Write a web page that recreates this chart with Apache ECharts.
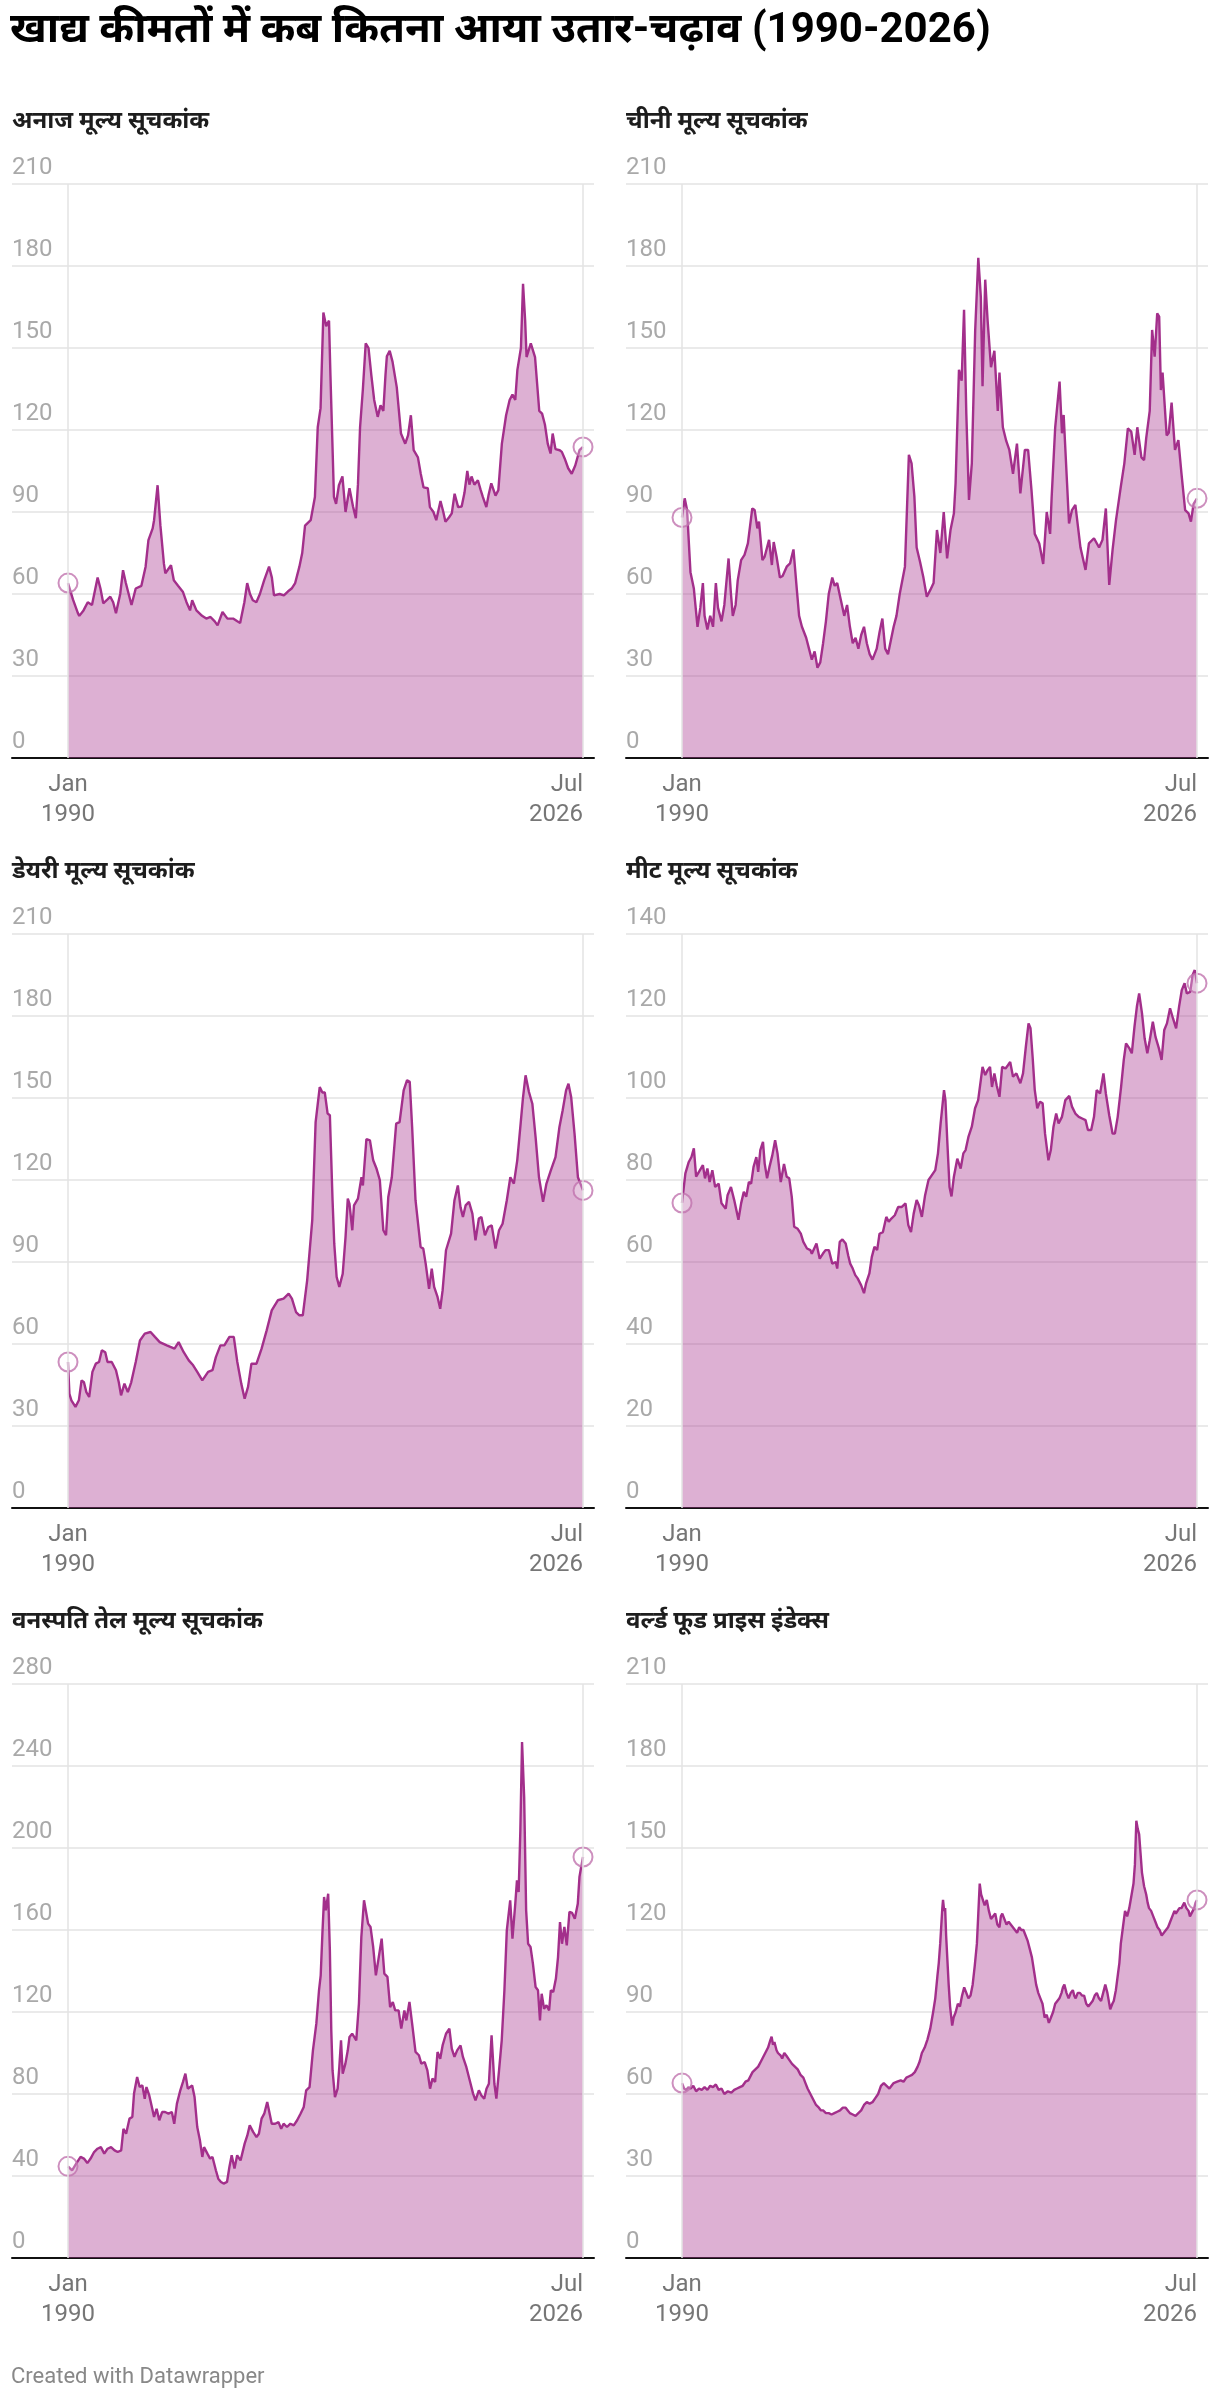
<!DOCTYPE html>
<html>
<head>
<meta charset="utf-8">
<script src="https://cdn.jsdelivr.net/npm/echarts@6/dist/echarts.min.js"></script>
<style>
  html, body { margin: 0; padding: 0; background: #fff; }
  #chart { width: 1220px; height: 2404px; }
</style>
</head>
<body>
<div id="chart"></div>
<script>
// ---- data, [year, index value] ----
const mainTitle = "खाद्य कीमतों में कब कितना आया उतार-चढ़ाव (1990-2026)";
const credit = "Created with Datawrapper";
const panelTitles = ["अनाज मूल्य सूचकांक", "चीनी मूल्य सूचकांक", "डेयरी मूल्य सूचकांक",
  "मीट मूल्य सूचकांक", "वनस्पति तेल मूल्य सूचकांक", "वर्ल्ड फूड प्राइस इंडेक्स"];
const axisMax = [210, 210, 210, 140, 280, 210];
const axisStep = [30, 30, 30, 20, 40, 30];
const firstMonth = 1990;
const lastMonth = 2026.5;
const xTickLabels = ["Jan\n1990", "Jul\n2026"];

const cerealData = [[1990.0,64],[1990.35,58],[1990.7,53],[1990.8,52],[1991.1,54],[1991.4,57],[1991.7,56],[1992.1,66],[1992.3,62],[1992.5,56.6],[1992.8,58],[1993.0,59],[1993.2,57],[1993.4,53],[1993.7,60],[1993.9,68.7],[1994.1,64],[1994.3,60],[1994.5,56],[1994.8,62],[1995.2,63],[1995.5,70],[1995.7,79.7],[1996.0,84],[1996.1,87],[1996.35,99.8],[1996.55,85],[1996.8,71],[1996.9,67.6],[1997.3,70.5],[1997.5,65],[1997.8,63],[1998.15,60.7],[1998.4,57],[1998.65,54],[1998.8,57.7],[1999.1,54],[1999.5,52],[1999.8,51],[2000.1,51.6],[2000.4,50],[2000.6,48.5],[2000.95,53.4],[2001.3,51],[2001.7,51],[2002.0,50],[2002.2,49.4],[2002.5,57],[2002.7,64],[2002.9,60],[2003.1,57.7],[2003.35,57],[2003.6,60],[2003.9,65],[2004.25,70],[2004.45,66],[2004.6,59.5],[2005.0,60],[2005.3,59.5],[2005.6,61],[2005.85,62],[2006.1,64],[2006.4,70],[2006.6,75],[2006.8,85],[2007.2,87],[2007.5,95.5],[2007.7,121],[2007.9,128],[2008.1,163],[2008.3,158],[2008.5,160],[2008.6,140],[2008.85,95.5],[2009.0,93],[2009.2,99.8],[2009.45,103],[2009.67,90],[2009.95,98.7],[2010.2,92],[2010.4,87.7],[2010.55,100],[2010.7,121],[2010.9,135],[2011.1,151.7],[2011.3,150],[2011.5,140],[2011.7,131],[2011.95,124.8],[2012.15,129],[2012.35,127],[2012.5,140],[2012.6,147],[2012.8,149],[2013.0,145],[2013.3,135.7],[2013.6,118.7],[2013.9,115],[2014.1,118],[2014.3,125.4],[2014.5,112.6],[2014.8,110],[2015.0,104],[2015.2,99],[2015.5,98.7],[2015.65,91.8],[2015.9,90],[2016.1,87],[2016.4,94],[2016.6,90],[2016.75,86.4],[2017.0,88],[2017.2,89.5],[2017.4,96.7],[2017.65,91.8],[2017.9,92],[2018.1,97],[2018.3,105],[2018.45,100],[2018.6,103],[2018.8,100],[2019.05,101.6],[2019.25,98],[2019.4,95.5],[2019.65,91.8],[2019.8,96],[2020.0,100.5],[2020.3,96],[2020.5,98],[2020.75,115],[2021.05,125.4],[2021.3,131],[2021.5,133],[2021.7,131],[2021.85,142],[2022.1,150],[2022.25,173.5],[2022.4,160],[2022.5,146.7],[2022.8,151.7],[2023.1,146.7],[2023.4,127],[2023.6,126],[2023.8,122],[2024.0,115],[2024.2,111.4],[2024.35,118.7],[2024.55,113],[2024.85,112.6],[2025.0,112],[2025.2,109.6],[2025.45,106],[2025.7,104],[2025.95,107],[2026.25,112.6],[2026.5,113.8]];

const sugarData = [[1990.0,88],[1990.19,95],[1990.36,90.7],[1990.6,68],[1990.84,62],[1990.95,56],[1991.1,48],[1991.3,55],[1991.48,64],[1991.6,52],[1991.8,47],[1992.0,52],[1992.2,48],[1992.4,64],[1992.55,55],[1992.8,50],[1993.0,56],[1993.3,73],[1993.47,60],[1993.6,52],[1993.8,56],[1993.95,65],[1994.19,72.4],[1994.43,74.3],[1994.67,78.5],[1994.98,91.3],[1995.15,90.7],[1995.34,84],[1995.46,86.5],[1995.7,72.4],[1995.86,73.7],[1996.17,79.8],[1996.37,70.6],[1996.5,79],[1996.7,73.7],[1996.94,66],[1997.13,66.6],[1997.42,70],[1997.66,71.2],[1997.9,76.3],[1998.14,61.5],[1998.3,52],[1998.5,48],[1998.8,44],[1999.0,40],[1999.2,36],[1999.4,39],[1999.6,33],[1999.8,35],[2000.0,42],[2000.2,50],[2000.4,60],[2000.65,66],[2000.82,63],[2001.0,64],[2001.25,58],[2001.5,52],[2001.7,56],[2001.9,48],[2002.1,42],[2002.3,44],[2002.5,40],[2002.7,45],[2002.9,48],[2003.1,42],[2003.3,38],[2003.5,36],[2003.8,40],[2004.0,46],[2004.2,51],[2004.4,40],[2004.6,38],[2004.8,43],[2005.0,48],[2005.2,52],[2005.43,60],[2005.8,70],[2006.08,110.9],[2006.27,107.8],[2006.47,95.6],[2006.63,77],[2006.87,71.8],[2007.11,66],[2007.35,59],[2007.6,61.5],[2007.83,64],[2008.07,83.4],[2008.31,75],[2008.55,90],[2008.79,73],[2009.03,83.4],[2009.27,89.5],[2009.39,100.5],[2009.63,142],[2009.82,138],[2009.99,164],[2010.15,126],[2010.34,94.4],[2010.54,107.8],[2010.78,156.6],[2011.0,183],[2011.18,168.6],[2011.3,136],[2011.49,175],[2011.66,160],[2011.9,143],[2012.14,149],[2012.38,127],[2012.5,141],[2012.74,121],[2012.98,116],[2013.2,112.7],[2013.46,104],[2013.74,115],[2013.98,96.8],[2014.3,112.7],[2014.53,112.7],[2014.77,98],[2015.0,82],[2015.32,78.5],[2015.6,71],[2015.85,90],[2016.09,82],[2016.2,95.6],[2016.45,121],[2016.76,137.7],[2016.93,118.8],[2017.05,125.5],[2017.29,100.5],[2017.43,85.8],[2017.64,90.7],[2017.88,92.6],[2018.24,77],[2018.6,68.8],[2018.84,78.5],[2019.2,80.4],[2019.56,77],[2019.8,79.8],[2020.04,91.3],[2020.28,63.3],[2020.52,76.3],[2020.76,87],[2021.1,99.3],[2021.35,107.8],[2021.6,120.6],[2021.84,119.4],[2022.08,110.9],[2022.27,121],[2022.56,110],[2022.75,109],[2022.9,117],[2023.15,127],[2023.32,156.6],[2023.5,146.8],[2023.68,162.7],[2023.82,161.5],[2023.94,134.6],[2024.06,141],[2024.35,118],[2024.5,119],[2024.7,130],[2024.94,112.7],[2025.18,116.3],[2025.4,104],[2025.66,90.7],[2025.9,89.5],[2026.07,86.5],[2026.26,93],[2026.5,95]];

const dairyData = [[1990.0,53.4],[1990.1,41.8],[1990.24,39.4],[1990.53,37],[1990.77,39.4],[1990.96,46.7],[1991.13,46],[1991.3,42.4],[1991.5,40.6],[1991.73,49.8],[1991.97,52.8],[1992.2,53.4],[1992.4,57.7],[1992.64,57],[1992.8,53.4],[1993.1,53.4],[1993.4,50.4],[1993.6,46],[1993.76,41.2],[1994.0,45.5],[1994.24,42.4],[1994.48,46],[1994.8,53.4],[1995.1,61.3],[1995.44,63.8],[1995.85,64.4],[1996.16,62.6],[1996.5,60.7],[1997.0,59.5],[1997.55,58.3],[1997.84,60.7],[1998.2,57],[1998.56,54],[1998.87,52.2],[1999.16,49.8],[1999.52,46.7],[1999.93,49.8],[2000.24,50.4],[2000.48,55.2],[2000.8,59.5],[2001.08,59.5],[2001.44,62.6],[2001.75,62.6],[2002.0,53.4],[2002.28,45.5],[2002.52,40],[2002.76,44.3],[2003.0,52.8],[2003.36,52.8],[2003.72,58.3],[2004.08,65],[2004.44,72.3],[2004.87,76],[2005.28,76.6],[2005.64,78.4],[2005.87,76.6],[2006.16,71.7],[2006.4,70.5],[2006.64,70.5],[2006.95,83.3],[2007.31,105.2],[2007.55,141.2],[2007.84,154],[2008.03,152],[2008.2,152],[2008.4,144.3],[2008.56,143.7],[2008.75,112.6],[2008.87,96.7],[2009.04,84.5],[2009.23,80.9],[2009.47,85.7],[2009.67,99.1],[2009.83,113.2],[2009.95,111.3],[2010.15,101.6],[2010.27,110.7],[2010.55,113.2],[2010.8,121],[2010.9,118],[2011.15,135],[2011.4,134.5],[2011.63,127.2],[2011.87,124.1],[2012.1,120],[2012.35,101.6],[2012.54,99.8],[2012.7,113.8],[2012.95,121],[2013.26,140.6],[2013.5,141.2],[2013.79,152.8],[2014.03,156.5],[2014.22,155.9],[2014.39,139.4],[2014.63,112.6],[2014.99,95.5],[2015.18,94.9],[2015.35,89.4],[2015.59,80.2],[2015.78,87.6],[2015.95,80.9],[2016.19,77.2],[2016.38,72.9],[2016.55,79.6],[2016.79,94.3],[2017.15,100.4],[2017.39,112.6],[2017.63,118],[2017.82,110],[2017.99,106.5],[2018.18,110.7],[2018.42,112],[2018.66,107.7],[2018.88,97.9],[2019.12,105.9],[2019.3,106.5],[2019.55,99.8],[2019.79,102.8],[2020.03,103.4],[2020.3,94.9],[2020.55,101.6],[2020.8,104],[2021.1,112.6],[2021.35,121],[2021.6,118.7],[2021.84,127.2],[2022.08,140.6],[2022.24,149.8],[2022.43,158.3],[2022.67,152.2],[2022.91,147.9],[2023.14,135.7],[2023.38,121],[2023.67,112],[2023.91,118.7],[2024.22,123.5],[2024.55,128.4],[2024.83,139.4],[2025.06,145.5],[2025.3,152.8],[2025.47,155.2],[2025.66,150.4],[2025.9,137],[2026.14,121],[2026.5,116.2]];

const meatData = [[1990.0,74.4],[1990.24,81.6],[1990.48,84.4],[1990.67,85.6],[1990.84,87.7],[1991.0,80.8],[1991.2,82],[1991.48,83.6],[1991.63,80.4],[1991.8,82.8],[1991.96,79.5],[1992.15,82.4],[1992.35,78.3],[1992.6,79.1],[1992.8,74.3],[1993.1,73],[1993.23,76.3],[1993.47,78.3],[1993.7,75.1],[1994.0,70.3],[1994.19,74.3],[1994.38,77.1],[1994.55,75.9],[1994.74,79.5],[1994.9,79.1],[1995.07,83.2],[1995.27,85.6],[1995.4,82],[1995.55,87.3],[1995.74,89.3],[1995.86,84],[1996.03,80.4],[1996.2,83.2],[1996.4,86],[1996.6,89.7],[1996.77,86.5],[1997.0,79.5],[1997.23,83.9],[1997.42,80.8],[1997.6,80.4],[1997.78,75.9],[1997.95,68.6],[1998.2,68.1],[1998.42,66.9],[1998.6,64.9],[1998.86,63.3],[1999.1,62.9],[1999.2,62],[1999.53,64.5],[1999.76,60.8],[1999.98,62],[2000.17,62.9],[2000.41,62.9],[2000.65,59.6],[2000.9,60],[2001.0,58.4],[2001.18,64.9],[2001.37,65.5],[2001.6,64.5],[2001.78,61.6],[2001.92,59.6],[2002.1,58.4],[2002.28,56.8],[2002.45,56],[2002.7,54.3],[2002.9,52.4],[2003.04,54.7],[2003.28,57.2],[2003.45,61.2],[2003.64,63.7],[2003.83,62.9],[2004.0,66.9],[2004.24,67.3],[2004.48,71],[2004.65,69.8],[2004.84,70.6],[2005.08,71.4],[2005.32,73.4],[2005.56,73.4],[2005.84,74.3],[2006.04,69],[2006.23,67.3],[2006.42,71.8],[2006.63,75.1],[2006.8,73.8],[2007.0,71],[2007.23,76.3],[2007.47,80],[2007.71,81.2],[2007.95,82.4],[2008.14,86.5],[2008.33,93.8],[2008.57,101.9],[2008.67,99.5],[2008.81,88.9],[2008.96,78.3],[2009.1,76],[2009.27,80.8],[2009.51,85.2],[2009.75,82.8],[2009.94,86.5],[2010.1,87.3],[2010.3,90.5],[2010.54,93],[2010.77,97.5],[2010.99,99.5],[2011.18,104.4],[2011.3,107.6],[2011.49,105.6],[2011.66,106.8],[2011.83,107.6],[2011.97,102.7],[2012.14,106],[2012.3,103.1],[2012.5,100.3],[2012.69,107.6],[2012.93,107.2],[2013.1,108],[2013.26,108.8],[2013.46,105.2],[2013.7,106],[2013.98,103.6],[2014.17,106],[2014.37,112.5],[2014.56,118.2],[2014.7,117],[2014.85,110],[2015.0,102],[2015.18,97.5],[2015.37,99.1],[2015.56,98.7],[2015.73,91.3],[2015.97,84.8],[2016.14,87.3],[2016.33,93],[2016.52,96.2],[2016.69,93.8],[2016.93,95.4],[2017.17,99.5],[2017.45,100.5],[2017.64,97.9],[2017.88,96.2],[2018.12,95.4],[2018.36,95],[2018.6,94.6],[2018.77,92.2],[2019.0,92.2],[2019.2,95.4],[2019.39,101.9],[2019.63,101.1],[2019.87,106],[2020.04,101.1],[2020.28,95.8],[2020.52,91.3],[2020.68,91.3],[2020.88,95.4],[2021.12,102.7],[2021.31,109.3],[2021.47,113.3],[2021.71,112.1],[2021.88,110.9],[2022.07,117.4],[2022.24,122.3],[2022.4,125.5],[2022.6,120.7],[2022.79,114.5],[2022.98,110.9],[2023.15,114.1],[2023.37,118.6],[2023.56,114.9],[2023.8,112.1],[2023.99,109.3],[2024.18,116.6],[2024.37,118.2],[2024.59,121.9],[2024.8,119.4],[2025.02,117],[2025.23,122.3],[2025.42,126.3],[2025.62,128],[2025.78,125.5],[2026.02,125.9],[2026.19,130],[2026.34,131.2],[2026.5,128]];

const vegOilData = [[1990.0,44.7],[1990.29,42.8],[1990.58,46],[1990.89,49.3],[1991.13,48.5],[1991.37,46.3],[1991.6,48.5],[1991.85,51.7],[1992.09,53.3],[1992.33,54.1],[1992.57,50.9],[1992.8,53.3],[1993.05,54.1],[1993.3,52.5],[1993.52,51.7],[1993.77,52.5],[1993.93,63],[1994.12,60.6],[1994.36,68],[1994.56,68.8],[1994.68,80.2],[1994.9,88.3],[1995.08,83.4],[1995.27,84.2],[1995.44,77.7],[1995.56,83.4],[1995.76,79.3],[1995.92,74.4],[1996.1,68.8],[1996.28,72.8],[1996.47,67.2],[1996.67,71.2],[1996.88,71.2],[1997.12,70.4],[1997.36,71.2],[1997.53,65.5],[1997.72,75.3],[1997.96,81.8],[1998.15,85.9],[1998.32,89.9],[1998.49,82.6],[1998.8,84.2],[1998.97,78.5],[1999.16,63.9],[1999.35,57.4],[1999.52,49.3],[1999.64,54.1],[1999.88,50.9],[2000.07,48.5],[2000.24,49.3],[2000.48,42.8],[2000.65,38.7],[2000.84,37.1],[2001.03,36.3],[2001.27,37.1],[2001.44,44.4],[2001.6,50.1],[2001.8,43.6],[2001.99,50.1],[2002.23,47.6],[2002.52,55.8],[2002.71,59.8],[2002.88,64.7],[2003.12,61.5],[2003.36,59],[2003.53,60.6],[2003.72,68],[2003.91,70.4],[2004.12,76.1],[2004.24,75.3],[2004.44,65.5],[2004.68,65.5],[2004.92,66.3],[2005.11,63],[2005.28,65.5],[2005.52,63.9],[2005.76,65.5],[2006.0,64.7],[2006.24,67.2],[2006.48,70.4],[2006.71,73.7],[2006.88,81.8],[2007.12,83.4],[2007.36,101.3],[2007.6,114.3],[2007.79,130.6],[2007.91,137.9],[2008.03,158.2],[2008.15,176.1],[2008.27,169.6],[2008.44,177.7],[2008.56,150],[2008.66,111],[2008.75,91.5],[2008.92,78.5],[2009.11,82.6],[2009.23,93.2],[2009.35,106.2],[2009.47,89.9],[2009.66,94.8],[2009.83,101.3],[2009.95,107.8],[2010.14,109.4],[2010.26,109.4],[2010.43,106.2],[2010.62,124.1],[2010.79,156.6],[2010.98,174.5],[2011.1,175.3],[2011.27,163.1],[2011.44,161.5],[2011.63,151.7],[2011.82,137.9],[2011.99,145.2],[2012.23,155.8],[2012.42,138.7],[2012.64,137.1],[2012.83,122.4],[2013.02,124.9],[2013.19,120.8],[2013.43,120.8],[2013.62,111.9],[2013.84,120.8],[2013.98,115.9],[2014.2,124.9],[2014.39,114.3],[2014.63,100.5],[2014.87,98.9],[2015.04,94.8],[2015.28,95.6],[2015.47,91.5],[2015.66,82.6],[2015.83,87.5],[2016.02,85.9],[2016.19,100.5],[2016.38,97.2],[2016.55,103.7],[2016.79,109.4],[2017.03,111.9],[2017.2,102.1],[2017.39,98.1],[2017.58,101.3],[2017.82,103.7],[2017.99,98.1],[2018.23,93.2],[2018.47,86.7],[2018.71,80.2],[2018.88,76.9],[2019.12,81.8],[2019.3,79.3],[2019.5,77.7],[2019.66,82.6],[2019.83,85],[2020.02,108.6],[2020.22,85],[2020.36,77.7],[2020.55,91.5],[2020.74,106.2],[2020.93,130.6],[2021.1,159.8],[2021.34,174.5],[2021.5,155.8],[2021.7,172.8],[2021.82,184.2],[2021.94,178.5],[2022.06,208.6],[2022.18,251.7],[2022.33,224.9],[2022.47,169.6],[2022.61,153.3],[2022.78,151.7],[2022.95,143.6],[2023.14,132.2],[2023.31,130.6],[2023.45,115.9],[2023.57,128.9],[2023.74,121.6],[2023.91,123.3],[2024.1,120.8],[2024.22,130.6],[2024.39,129.8],[2024.58,136.3],[2024.73,146.8],[2024.87,163.9],[2025.01,153.3],[2025.18,161.5],[2025.35,152.5],[2025.54,168.8],[2025.73,168.3],[2025.92,165.5],[2026.13,172.8],[2026.25,185.9],[2026.37,190.7],[2026.5,195.6]];

const foodData = [[1990.0,64],[1990.15,62],[1990.3,61.5],[1990.45,62.5],[1990.6,62],[1990.8,63],[1991.0,61],[1991.2,62],[1991.4,61.5],[1991.6,62.5],[1991.8,61.5],[1992.0,63],[1992.2,62.5],[1992.4,63.5],[1992.6,61.5],[1992.8,62],[1993.0,60],[1993.25,61],[1993.5,60.5],[1993.7,61.5],[1993.9,62],[1994.1,62.5],[1994.3,63],[1994.5,64.5],[1994.7,65],[1994.9,67],[1995.0,68],[1995.2,69],[1995.4,70],[1995.6,72],[1995.8,74],[1996.0,76],[1996.1,77],[1996.25,79.5],[1996.35,81],[1996.45,78],[1996.55,79],[1996.7,76],[1996.8,75],[1997.0,74],[1997.1,73],[1997.25,75],[1997.4,74],[1997.6,72.5],[1997.8,71],[1998.0,70],[1998.2,69],[1998.4,67],[1998.6,66],[1998.75,64],[1998.9,62],[1999.1,60],[1999.3,58],[1999.5,56],[1999.7,55],[1999.85,54],[2000.0,54],[2000.2,53],[2000.4,53],[2000.6,52.5],[2000.8,53],[2001.0,53.5],[2001.2,54],[2001.4,55],[2001.6,55],[2001.75,54],[2001.9,53],[2002.1,52.5],[2002.3,52],[2002.5,53],[2002.7,54],[2002.9,56],[2003.1,57],[2003.3,56.5],[2003.5,57],[2003.7,58.5],[2003.9,60],[2004.1,63],[2004.3,64],[2004.5,63],[2004.7,62],[2004.85,63],[2005.0,64],[2005.25,64.5],[2005.5,65],[2005.7,64.5],[2005.9,66],[2006.1,66.5],[2006.3,67],[2006.5,68],[2006.7,70],[2006.85,72],[2007.0,75],[2007.2,77],[2007.4,80],[2007.6,84],[2007.8,90],[2007.95,95],[2008.1,103],[2008.2,108],[2008.3,115],[2008.45,128],[2008.5,131],[2008.58,127],[2008.65,128],[2008.72,118],[2008.8,110],[2008.9,100],[2009.0,92],[2009.15,85],[2009.25,88],[2009.4,90],[2009.55,93],[2009.7,92],[2009.85,96],[2010.0,99],[2010.15,97],[2010.3,95],[2010.45,96],[2010.6,100],[2010.75,107],[2010.9,115],[2011.0,126],[2011.1,137],[2011.2,133],[2011.3,133],[2011.45,129],[2011.6,131],[2011.75,127],[2011.9,124],[2012.05,125],[2012.2,126],[2012.35,122],[2012.5,121],[2012.6,125],[2012.7,126],[2012.85,124],[2013.0,122],[2013.15,123],[2013.3,122],[2013.45,121],[2013.6,120],[2013.75,119],[2013.9,121],[2014.05,120],[2014.2,120],[2014.35,118],[2014.5,116],[2014.65,113],[2014.8,110],[2014.95,105],[2015.1,100],[2015.25,97],[2015.4,95],[2015.55,93],[2015.7,88],[2015.85,89],[2016.0,86],[2016.15,88],[2016.3,90],[2016.45,93],[2016.6,94],[2016.75,95],[2016.9,97],[2017.0,99],[2017.1,100],[2017.25,97],[2017.4,95],[2017.55,97],[2017.7,98],[2017.8,96],[2017.9,95],[2018.05,97],[2018.2,97],[2018.35,96],[2018.5,96],[2018.65,93],[2018.8,92],[2018.95,93],[2019.1,94],[2019.25,96],[2019.4,97],[2019.55,95],[2019.7,94],[2019.85,97],[2020.0,100],[2020.15,97],[2020.35,91],[2020.5,93],[2020.6,94],[2020.75,98],[2020.9,104],[2021.0,108],[2021.1,115],[2021.25,121],[2021.4,127],[2021.55,125],[2021.7,128],[2021.8,131],[2021.9,134],[2022.0,137],[2022.1,144],[2022.2,160],[2022.3,157],[2022.4,155],[2022.5,148],[2022.6,141],[2022.75,136],[2022.9,133],[2023.0,130],[2023.1,128],[2023.25,127],[2023.4,125],[2023.55,123],[2023.7,121],[2023.85,120],[2024.0,118],[2024.15,119],[2024.3,120],[2024.45,121],[2024.6,123],[2024.75,125],[2024.9,127],[2025.0,126],[2025.1,126],[2025.25,128],[2025.4,128],[2025.5,129],[2025.6,130],[2025.75,128],[2025.9,127],[2026.0,125],[2026.1,126],[2026.2,127],[2026.3,128],[2026.4,130],[2026.5,131]];

const panelData = [cerealData, sugarData, dairyData, meatData, vegOilData, foodData];

// ---- layout ----
const FONT = 'Roboto, "Noto Sans", sans-serif';
const LINE = '#a32f8b';
const colLeft = [12, 626];
const rowTop = [184, 934, 1684];
const gridW = 582, gridH = 574;
// x scale: Jan 1990 sits 56px in from the grid edge, Jul 2026 11px from the right edge
const pxPerYear = 515 / (lastMonth - firstMonth);
const xMin = firstMonth - 56 / pxPerYear;
const xMax = lastMonth + 11 / pxPerYear;

const grids = [], xAxes = [], yAxes = [], series = [];
const titles = [{
  text: mainTitle, left: 10, top: 10, padding: 0,
  textStyle: { fontFamily: FONT, fontSize: 42, fontWeight: 'bold', color: '#000' }
}, {
  text: credit, left: 11, top: 2366, padding: 0,
  textStyle: { fontFamily: FONT, fontSize: 22, fontWeight: 'normal', color: '#888' }
}];

panelData.forEach((data, i) => {
  const left = colLeft[i % 2];
  const top = rowTop[Math.floor(i / 2)];
  grids.push({ left: left, top: top, width: gridW, height: gridH });
  titles.push({
    text: panelTitles[i], left: left, top: top - 74, padding: 0,
    textStyle: { fontFamily: FONT, fontSize: 24, fontWeight: 'bold', color: '#1d1d1d' }
  });
  xAxes.push({
    type: 'value', gridIndex: i, min: xMin, max: xMax,
    splitLine: { show: false },
    axisTick: { show: false },
    axisLine: { show: true, lineStyle: { color: '#111', width: 2 } },
    axisLabel: {
      customValues: [firstMonth, lastMonth],
      formatter: v => (v === firstMonth ? xTickLabels[0] : xTickLabels[1]),
      alignMinLabel: 'center', alignMaxLabel: 'right',
      color: '#767676', fontFamily: FONT, fontSize: 24, lineHeight: 30, margin: 12
    }
  });
  yAxes.push({
    type: 'value', gridIndex: i, min: 0, max: axisMax[i], interval: axisStep[i],
    axisLine: { show: false }, axisTick: { show: false },
    splitLine: { lineStyle: { color: '#e3e3e3', width: 1.5 } },
    axisLabel: {
      inside: true, margin: 0, align: 'left', verticalAlign: 'bottom',
      padding: [0, 0, 4, 0], color: '#a9a9a9', fontFamily: FONT, fontSize: 24
    }
  });
  series.push({
    type: 'line', xAxisIndex: i, yAxisIndex: i, data: data,
    symbol: 'none', silent: true,
    lineStyle: { color: LINE, width: 2.4 },
    areaStyle: { color: 'rgba(168, 53, 143, 0.56)' },
    markLine: {
      silent: true, symbol: 'none', label: { show: false },
      lineStyle: { color: '#e3e3e3', type: 'solid', width: 1.5 },
      data: [{ xAxis: firstMonth }, { xAxis: lastMonth }]
    },
    z: 2
  });
  series.push({
    type: 'scatter', xAxisIndex: i, yAxisIndex: i, silent: true,
    data: [data[0], data[data.length - 1]],
    symbolSize: 19,
    itemStyle: { color: 'rgba(255,255,255,0.35)', borderColor: '#c173ae', borderWidth: 2 },
    z: 3
  });
});

const chart = echarts.init(document.getElementById('chart'), null, { renderer: 'canvas' });
chart.setOption({
  animation: false,
  backgroundColor: '#fff',
  title: titles,
  grid: grids,
  xAxis: xAxes,
  yAxis: yAxes,
  series: series
});
</script>
</body>
</html>
